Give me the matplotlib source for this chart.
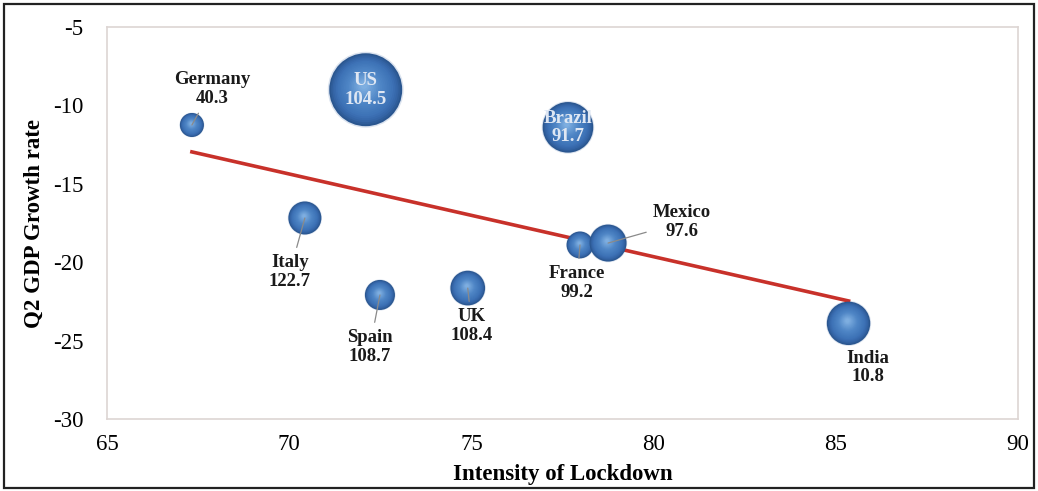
import numpy as np
import matplotlib
matplotlib.use("Agg")
import matplotlib.pyplot as plt
import matplotlib.transforms as mtransforms
from matplotlib.patches import Circle, Rectangle
from matplotlib.colors import to_rgb

# ---- data ----
countries = ["Germany", "US", "Brazil", "Italy", "Spain", "UK", "France", "Mexico", "India"]
lockdown = [67.33, 72.1, 77.65, 70.43, 72.49, 74.9, 77.98, 78.75, 85.35]
gdp_growth = [-11.25, -9.0, -11.4, -17.18, -22.09, -21.65, -18.9, -18.78, -23.9]
label_values = ["40.3", "104.5", "91.7", "122.7", "108.7", "108.4", "99.2", "97.6", "10.8"]
bubble_size = [144, 1330, 640, 272, 225, 300, 180, 342, 470]

x_ticks = [65, 70, 75, 80, 85, 90]
y_ticks = [-5, -10, -15, -20, -25, -30]

# ---- style ----
plt.rcParams['font.family'] = ['Liberation Serif', 'DejaVu Serif']
plt.rcParams['axes.unicode_minus'] = False
W, H, DPI = 1038, 491, 100
fig = plt.figure(figsize=(W / DPI, H / DPI), dpi=DPI)
fig.patch.set_facecolor('white')
ax = fig.add_axes([107 / W, 1 - 419 / H, (1018 - 107) / W, (419 - 27) / H])
ax.set_xlim(65, 90)
ax.set_ylim(-30, -5)
ax.set_xticks(x_ticks)
ax.set_yticks(y_ticks)
ax.tick_params(length=0, labelsize=16.5, pad=0)
ax.tick_params(axis='x', pad=11)
ax.tick_params(axis='y', pad=17)
for s in ax.spines.values():
    s.set_color('#ddd5d3')
    s.set_linewidth(1.2)
ax.set_xlabel("Intensity of Lockdown", fontsize=16.5, fontweight='bold', labelpad=6)
ax.set_ylabel("Q2 GDP Growth rate", fontsize=16.5, fontweight='bold', labelpad=6)

# outer frame
fig.add_artist(Rectangle((4 / W, 3 / H), 1030 / W, 484 / H, transform=fig.transFigure,
                         fill=False, edgecolor='#222222', linewidth=1.6))

# trend line (least squares fit)
coef = np.polyfit(lockdown, gdp_growth, 1)
xs = np.array([min(lockdown), max(lockdown)])
ax.plot(xs, np.polyval(coef, xs), color='#c8312a', linewidth=2.6, zorder=3)

# bubbles with shading
stops_t = [0.0, 0.12, 0.25, 0.6, 1.0]
stops_c = [np.array(to_rgb(c)) for c in ['#2a568f', '#3566a8', '#3d72b6', '#4f86c6', '#7eaee0']]


def shade(t):
    for i in range(len(stops_t) - 1):
        if stops_t[i] <= t <= stops_t[i + 1]:
            f = (t - stops_t[i]) / (stops_t[i + 1] - stops_t[i])
            return stops_c[i] + (stops_c[i + 1] - stops_c[i]) * f
    return stops_c[-1]


N = 20
for x, y, a in zip(lockdown, gdp_growth, bubble_size):
    r = np.sqrt(a) / DPI  # inches
    trans = fig.dpi_scale_trans + mtransforms.ScaledTranslation(x, y, ax.transData)
    ax.add_patch(Circle((0, 0), r * 1.04, transform=trans, facecolor='#6f8fbf',
                        edgecolor='none', alpha=0.25, zorder=2))
    for k in range(N):
        t = k / (N - 1)
        rr = r * (1 - 0.9 * t)
        off = (-0.05 * r * t, 0.12 * r * t)
        ax.add_patch(Circle(off, rr, transform=trans, facecolor=shade(t),
                            edgecolor='none', zorder=4))

# labels
# (dx, dy) offsets in pixels for label centres; None means inside bubble
label_offsets = [(20, 36), None, None, (-15, -54), (-10, -52), (4, -38), (-3, -38), (74, 21), (19, -44)]
for name, x, y, val, off in zip(countries, lockdown, gdp_growth, label_values, label_offsets):
    txt = f"{name}\n{val}"
    if off is None:
        ax.text(x, y, txt, ha='center', va='center', fontsize=13.5, fontweight='bold',
                color='#dfe7f3', linespacing=1.12, zorder=6)
    else:
        arrow = dict(arrowstyle='-', color='#8a8a8a', linewidth=0.9, shrinkA=3, shrinkB=0)
        if name == "India":
            arrow = None
        ax.annotate(txt, xy=(x, y), xytext=off, textcoords='offset pixels',
                    ha='center', va='center', fontsize=13.5, fontweight='bold',
                    color='#1a1a1a', linespacing=1.12, zorder=6,
                    arrowprops=arrow)

fig.savefig("out.png", dpi=DPI)
